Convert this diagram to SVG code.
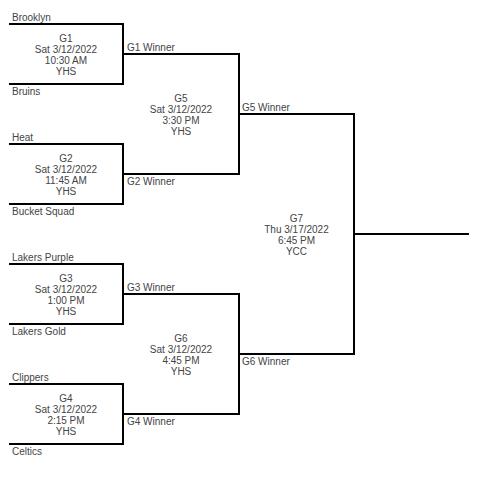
<svg xmlns="http://www.w3.org/2000/svg" width="491" height="484" viewBox="0 0 491 484">
<style>
text{font-family:"Liberation Sans",Arial,sans-serif;font-size:10px;fill:#444}
.c{text-anchor:middle}
.ln{fill:none;stroke:#000;stroke-width:2}
</style>
<rect width="491" height="484" fill="#fff"/>
<g id="connectors">
<path class="ln" d="M9 24H123V84H9"/>
<path class="ln" d="M9 144H123V204H9"/>
<path class="ln" d="M9 264H123V324H9"/>
<path class="ln" d="M9 384H123V444H9"/>
<path class="ln" d="M123 54H239V174H123"/>
<path class="ln" d="M123 294H239V414H123"/>
<path class="ln" d="M239 114H354V354H239"/>
<path class="ln" d="M354 234H469"/>
</g>
<g id="G1">
<text x="12" y="21">Brooklyn</text>
<text x="12" y="95">Bruins</text>
<text class="c" x="66" y="41.5">G1</text>
<text class="c" x="66" y="52.5">Sat 3/12/2022</text>
<text class="c" x="66" y="63.5">10:30 AM</text>
<text class="c" x="66" y="74.5">YHS</text>
</g>
<g id="G2">
<text x="12" y="141">Heat</text>
<text x="12" y="215">Bucket Squad</text>
<text class="c" x="66" y="161.5">G2</text>
<text class="c" x="66" y="172.5">Sat 3/12/2022</text>
<text class="c" x="66" y="183.5">11:45 AM</text>
<text class="c" x="66" y="194.5">YHS</text>
</g>
<g id="G3">
<text x="12" y="261">Lakers Purple</text>
<text x="12" y="335">Lakers Gold</text>
<text class="c" x="66" y="281.5">G3</text>
<text class="c" x="66" y="292.5">Sat 3/12/2022</text>
<text class="c" x="66" y="303.5">1:00 PM</text>
<text class="c" x="66" y="314.5">YHS</text>
</g>
<g id="G4">
<text x="12" y="381">Clippers</text>
<text x="12" y="455">Celtics</text>
<text class="c" x="66" y="401.5">G4</text>
<text class="c" x="66" y="412.5">Sat 3/12/2022</text>
<text class="c" x="66" y="423.5">2:15 PM</text>
<text class="c" x="66" y="434.5">YHS</text>
</g>
<g id="G5">
<text x="127" y="51">G1 Winner</text>
<text x="127" y="185">G2 Winner</text>
<text class="c" x="181" y="101.5">G5</text>
<text class="c" x="181" y="112.5">Sat 3/12/2022</text>
<text class="c" x="181" y="123.5">3:30 PM</text>
<text class="c" x="181" y="134.5">YHS</text>
</g>
<g id="G6">
<text x="127" y="291">G3 Winner</text>
<text x="127" y="425">G4 Winner</text>
<text class="c" x="181" y="341.5">G6</text>
<text class="c" x="181" y="352.5">Sat 3/12/2022</text>
<text class="c" x="181" y="363.5">4:45 PM</text>
<text class="c" x="181" y="374.5">YHS</text>
</g>
<g id="G7">
<text x="242" y="111">G5 Winner</text>
<text x="242" y="365">G6 Winner</text>
<text class="c" x="296.5" y="221.5">G7</text>
<text class="c" x="296.5" y="232.5">Thu 3/17/2022</text>
<text class="c" x="296.5" y="243.5">6:45 PM</text>
<text class="c" x="296.5" y="254.5">YCC</text>
</g>
</svg>
